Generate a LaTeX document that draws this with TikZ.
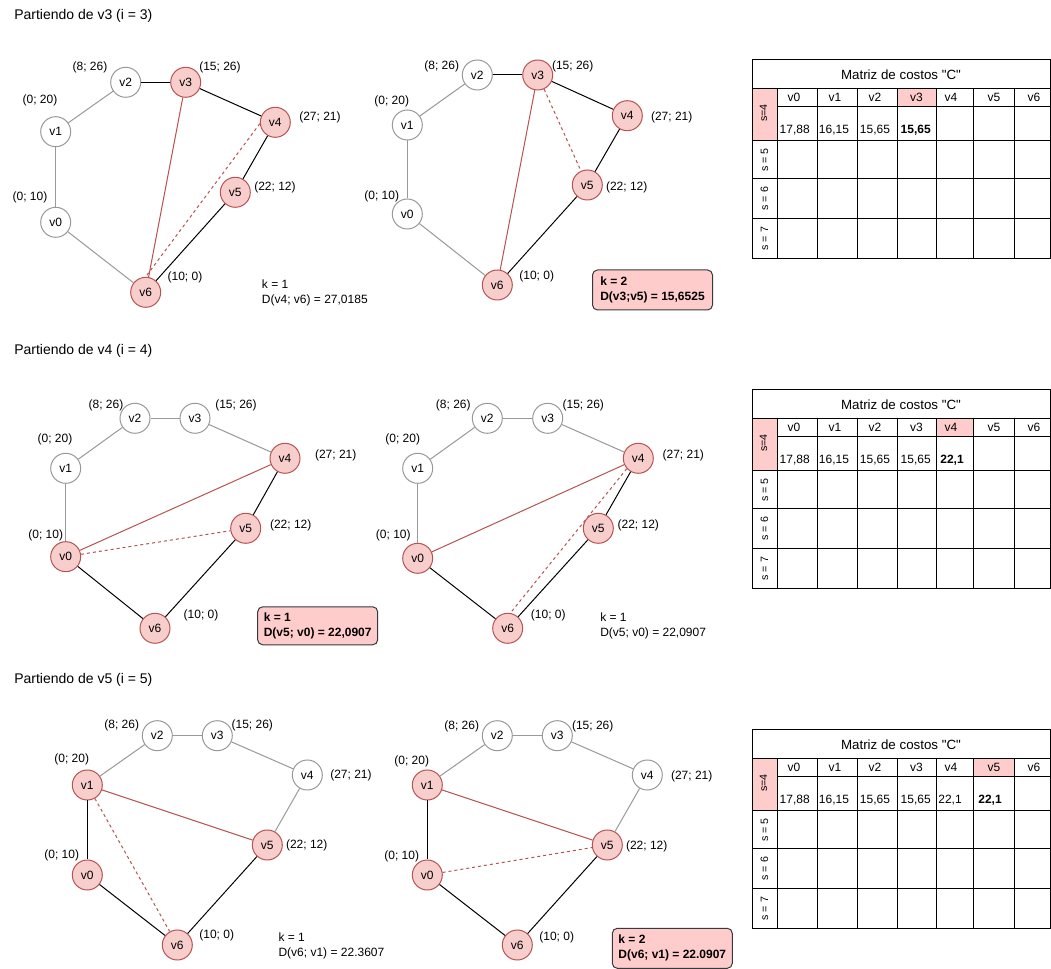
\documentclass[tikz,border=0pt]{standalone}
\usepackage{fontspec}
\setmainfont{Liberation Sans}
\newfontfamily\plainsans{Liberation Sans}[Ligatures=TeXOff]
\definecolor{cgray}{HTML}{999999}
\definecolor{cred}{HTML}{B85450}
\definecolor{cpink}{HTML}{F8CECC}
\definecolor{cbox}{HTML}{FFCCCC}
\definecolor{cboxd}{HTML}{36393D}
\tikzset{
  base/.style={line width=0.75pt},
  gn/.style={base,circle,draw=cgray,fill=white,minimum size=22.5pt,inner sep=0pt,font=\fontsize{9}{11}\selectfont},
  rn/.style={gn,draw=cred,fill=cpink},
  ge/.style={base,draw=cgray},
  be/.style={base,draw=black},
  re/.style={base,draw=cred},
  rd/.style={base,draw=cred,dash pattern=on 2.25pt off 2.25pt},
  lab/.style={font=\fontsize{9}{11}\selectfont,inner sep=0pt},
  ttl/.style={font=\fontsize{10.5}{12}\selectfont,anchor=west,inner sep=0pt},
  info/.style={font=\fontsize{9}{11.25}\selectfont,align=left,anchor=west,inner sep=0pt},
  kbox/.style={base,draw=cboxd,fill=cbox,rounded corners=3.75pt,minimum width=90pt,font=\bfseries\fontsize{9}{11.25}\selectfont,align=left,inner sep=0pt},
  tline/.style={base,draw=black},
  ttitle/.style={font=\plainsans\fontsize{10}{12}\selectfont,inner sep=0pt},
  tcell/.style={font=\fontsize{9}{11}\selectfont,inner sep=0pt},
  srow/.style={font=\fontsize{8}{10}\selectfont,inner sep=0pt,rotate=90},
}
\newcommand{\costtable}[4]{%
\begin{scope}[shift={(0,#2)}]
  \fill[cbox] (752,88.3) rectangle (777,141);
  \fill[cbox] (#3,88.3) rectangle (#4,106.7);
  \draw[tline] (752,60) rectangle (1050,259);
  \draw[tline] (752,88.3) -- (1050,88.3);
  \draw[tline] (777,106.7) -- (1050,106.7);
  \foreach \yy in {141,179,218.3} \draw[tline] (752,\yy) -- (1050,\yy);
  \foreach \xx in {777,817,857,897,936,973,1014} \draw[tline] (\xx,88.3) -- (\xx,259);
  \node[ttitle] (#1title) at (901,75) {Matriz de costos "C"};
  \node[tcell] (#1h0) at (794,97.7) {v0};
  \node[tcell] (#1h1) at (835,97.7) {v1};
  \node[tcell] (#1h2) at (875,97.7) {v2};
  \node[tcell] (#1h3) at (916.5,97.7) {v3};
  \node[tcell] (#1h4) at (951,97.7) {v4};
  \node[tcell] (#1h5) at (994,97.7) {v5};
  \node[tcell] (#1h6) at (1034,97.7) {v6};
  \node[srow] (#1s4) at (763.5,113) {s=4};
  \node[srow] (#1s5) at (764.5,160) {s = 5};
  \node[srow] (#1s6) at (764.5,198.6) {s = 6};
  \node[srow] (#1s7) at (764.5,238.6) {s = 7};
  \node[tcell] (#1c0) at (794.7,130) {17,88};
  \node[tcell] (#1c1) at (834,130) {16,15};
  \node[tcell] (#1c2) at (875,130) {15,65};
\end{scope}}
\begin{document}
\begin{tikzpicture}[x=0.75pt,y=-0.75pt]
\useasboundingbox (0,0) rectangle (1051,969);
\fill[white] (0,0) rectangle (1051,969);

% titles
\node[ttl] (t1) at (14,16) {Partiendo de v3 (i = 3)};
\node[ttl] (t2) at (14,351) {Partiendo de v4 (i = 4)};
\node[ttl] (t3) at (14,680) {Partiendo de v5 (i = 5)};

% ---------- graph 1 ----------
\node[gn] (a0) at (55.7,222.3) {v0};
\node[gn] (a1) at (55.7,131.7) {v1};
\node[gn] (a2) at (125.7,82.3) {v2};
\node[rn] (a3) at (185.7,82.3) {v3};
\node[rn] (a4) at (275.3,122.3) {v4};
\node[rn] (a5) at (235.3,192.3) {v5};
\node[rn] (a6) at (145.7,292.3) {v6};
\draw[ge] (a2) -- (a1); \draw[ge] (a1) -- (a0); \draw[ge] (a0) -- (a6);
\draw[be] (a2) -- (a3); \draw[be] (a3) -- (a4); \draw[be] (a4) -- (a5); \draw[be] (a5) -- (a6);
\draw[re] (a3) -- (a6); \draw[rd] (a4.185) -- (a6.north);
\node[lab] (al2) at (90,67) {(8; 26)};
\node[lab] (al3) at (220,67) {(15; 26)};
\node[lab] (al1) at (40,100.7) {(0; 20)};
\node[lab] (al4) at (320,117.3) {(27; 21)};
\node[lab] (al5) at (275,187.3) {(22; 12)};
\node[lab] (al0) at (30,197.3) {(0; 10)};
\node[lab] (al6) at (185,277.3) {(10; 0)};
\node[info] (ai) at (261.7,292.5) {k = 1\\D(v4; v6) = 27,0185};

% ---------- graph 2 ----------
\node[gn] (b0) at (407.3,214) {v0};
\node[gn] (b1) at (407.3,125) {v1};
\node[gn] (b2) at (477.3,75) {v2};
\node[rn] (b3) at (537.7,75) {v3};
\node[rn] (b4) at (627.3,115.7) {v4};
\node[rn] (b5) at (587.3,185) {v5};
\node[rn] (b6) at (497.3,285) {v6};
\draw[ge] (b2) -- (b1); \draw[ge] (b1) -- (b0); \draw[ge] (b0) -- (b6);
\draw[be] (b2) -- (b3); \draw[be] (b3) -- (b4); \draw[be] (b4) -- (b5); \draw[be] (b5) -- (b6);
\draw[re] (b3) -- (b6); \draw[rd] (b3) -- (b5);
\node[lab] (bl2) at (441.7,66.7) {(8; 26)};
\node[lab] (bl3) at (572.7,66.7) {(15; 26)};
\node[lab] (bl1) at (391.7,101) {(0; 20)};
\node[lab] (bl4) at (671.7,117.3) {(27; 21)};
\node[lab] (bl5) at (626.7,187.3) {(22; 12)};
\node[lab] (bl0) at (381.7,196.7) {(0; 10)};
\node[lab] (bl6) at (536.7,276.7) {(10; 0)};
\node[kbox,minimum height=30pt] (bk) at (652.5,290) {k = 2\\D(v3;v5) = 15,6525};

% ---------- graph 3 ----------
\node[rn] (c0) at (65.7,556.7) {v0};
\node[gn] (c1) at (65.7,468.3) {v1};
\node[gn] (c2) at (135,418.3) {v2};
\node[gn] (c3) at (195,418.3) {v3};
\node[rn] (c4) at (285,458.3) {v4};
\node[rn] (c5) at (245.7,528.3) {v5};
\node[rn] (c6) at (155,628.3) {v6};
\draw[ge] (c1) -- (c2); \draw[ge] (c2) -- (c3); \draw[ge] (c3) -- (c4); \draw[ge] (c1) -- (c0);
\draw[be] (c0) -- (c6); \draw[be] (c6) -- (c5); \draw[be] (c5) -- (c4);
\draw[re] (c0) -- (c4); \draw[rd] (c0) -- (c5);
\node[lab] (cl2) at (106,405) {(8; 26)};
\node[lab] (cl3) at (236,405) {(15; 26)};
\node[lab] (cl1) at (55,439.3) {(0; 20)};
\node[lab] (cl4) at (335.7,455.7) {(27; 21)};
\node[lab] (cl5) at (290.7,525.7) {(22; 12)};
\node[lab] (cl0) at (45.7,535) {(0; 10)};
\node[lab] (cl6) at (201,615.7) {(10; 0)};
\node[kbox,minimum height=28.5pt] (ck) at (317.7,625.8) {k = 1\\D(v5; v0) = 22,0907};

% ---------- graph 4 ----------
\node[rn] (d0) at (417.7,558.3) {v0};
\node[gn] (d1) at (417.7,468.3) {v1};
\node[gn] (d2) at (487.3,418.3) {v2};
\node[gn] (d3) at (547.7,418.3) {v3};
\node[rn] (d4) at (638.3,458.3) {v4};
\node[rn] (d5) at (598.3,528.3) {v5};
\node[rn] (d6) at (507.7,628.3) {v6};
\draw[ge] (d1) -- (d2); \draw[ge] (d2) -- (d3); \draw[ge] (d3) -- (d4); \draw[ge] (d1) -- (d0);
\draw[be] (d0) -- (d6); \draw[be] (d6) -- (d5); \draw[be] (d5) -- (d4);
\draw[re] (d0) -- (d4); \draw[rd] (d4.222) -- (d6.80);
\node[lab] (dl2) at (453.3,405) {(8; 26)};
\node[lab] (dl3) at (583.3,405) {(15; 26)};
\node[lab] (dl1) at (402.7,439.3) {(0; 20)};
\node[lab] (dl4) at (683.3,455.7) {(27; 21)};
\node[lab] (dl5) at (638.3,525.7) {(22; 12)};
\node[lab] (dl0) at (393.3,535) {(0; 10)};
\node[lab] (dl6) at (548.3,615.7) {(10; 0)};
\node[info] (di) at (600,626.3) {k = 1\\D(v5; v0) = 22,0907};

% ---------- graph 5 ----------
\node[rn] (e0) at (87.3,875) {v0};
\node[rn] (e1) at (87.3,785) {v1};
\node[gn] (e2) at (157.3,735.7) {v2};
\node[gn] (e3) at (217.3,735.7) {v3};
\node[gn] (e4) at (307.3,775) {v4};
\node[rn] (e5) at (267.3,845) {v5};
\node[rn] (e6) at (177.3,945) {v6};
\draw[ge] (e1) -- (e2); \draw[ge] (e2) -- (e3); \draw[ge] (e3) -- (e4); \draw[ge] (e4) -- (e5);
\draw[be] (e1) -- (e0); \draw[be] (e0) -- (e6); \draw[be] (e6) -- (e5);
\draw[re] (e1) -- (e5); \draw[rd] (e1) -- (e6);
\node[lab] (el2) at (121.7,725.7) {(8; 26)};
\node[lab] (el3) at (252.3,725.7) {(15; 26)};
\node[lab] (el1) at (71.7,759.3) {(0; 20)};
\node[lab] (el4) at (351,775) {(27; 21)};
\node[lab] (el5) at (306.7,845) {(22; 12)};
\node[lab] (el0) at (61.7,855.7) {(0; 10)};
\node[lab] (el6) at (216.7,935.7) {(10; 0)};
\node[info] (ei) at (278.3,946.2) {k = 1\\D(v6; v1) = 22.3607};

% ---------- graph 6 ----------
\node[rn] (f0) at (427.3,875) {v0};
\node[rn] (f1) at (427.3,785) {v1};
\node[gn] (f2) at (497.3,735.7) {v2};
\node[gn] (f3) at (557.3,735.7) {v3};
\node[gn] (f4) at (647.3,775) {v4};
\node[rn] (f5) at (607.3,845) {v5};
\node[rn] (f6) at (517.3,945) {v6};
\draw[ge] (f1) -- (f2); \draw[ge] (f2) -- (f3); \draw[ge] (f3) -- (f4); \draw[ge] (f4) -- (f5);
\draw[be] (f1) -- (f0); \draw[be] (f0) -- (f6); \draw[be] (f6) -- (f5);
\draw[re] (f1) -- (f5); \draw[rd] (f0) -- (f5);
\node[lab] (fl2) at (461.7,726.7) {(8; 26)};
\node[lab] (fl3) at (592.7,726.7) {(15; 26)};
\node[lab] (fl1) at (411.7,761) {(0; 20)};
\node[lab] (fl4) at (691.7,776.7) {(27; 21)};
\node[lab] (fl5) at (646.7,846.7) {(22; 12)};
\node[lab] (fl0) at (401.7,856.7) {(0; 10)};
\node[lab] (fl6) at (556.7,937.7) {(10; 0)};
\node[kbox,minimum height=30pt] (fk) at (672.3,948.3) {k = 2\\D(v6; v1) = 22.0907};

% ---------- tables ----------
\costtable{ta}{0}{897}{936}
\node[tcell,font=\bfseries\fontsize{9}{11}\selectfont] (tav3) at (915.7,130) {15,65};

\costtable{tb}{330}{936}{973}
\node[tcell] (tbv3) at (915.7,460) {15,65};
\node[tcell,font=\bfseries\fontsize{9}{11}\selectfont] (tbv4) at (952,460) {22,1};

\costtable{tc}{670}{973}{1014}
\node[tcell] (tcv3) at (915.7,800) {15,65};
\node[tcell] (tcv4) at (950,800) {22,1};
\node[tcell,font=\bfseries\fontsize{9}{11}\selectfont] (tcv5) at (990,800) {22,1};
\end{tikzpicture}
\end{document}
